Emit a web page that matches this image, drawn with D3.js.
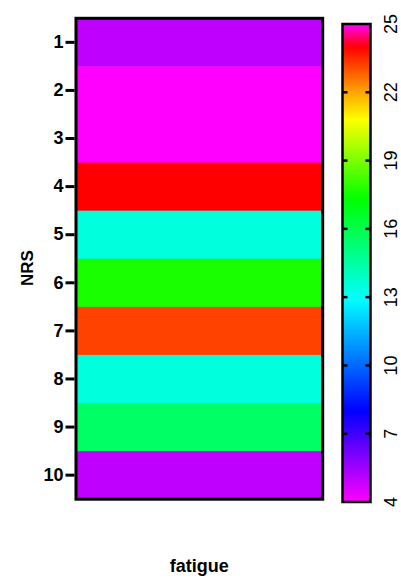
<!DOCTYPE html>
<html>
<head>
<meta charset="utf-8">
<script src="https://cdn.jsdelivr.net/npm/d3@7"></script>
<style>
  body { margin: 0; background: #fff; }
  svg text { font-family: Arial, "Liberation Sans", sans-serif; }
</style>
</head>
<body>
<svg></svg>
<script>
// NRS rows, one column (fatigue)
const nrsLevels = [1, 2, 3, 4, 5, 6, 7, 8, 9, 10];
const fatigueValues = [5, 25, 25, 24, 13.5, 17.65, 23.2, 13.5, 15.55, 5];
const colorTicks = [4, 7, 10, 13, 16, 19, 22, 25];
const colorDomain = [4, 25];

const colorStops = [4, 8, 12.9, 17.3, 20.8, 22, 24, 25];
const colorRange = ["#ff00ff", "#0000ff", "#00ffff", "#00ff00", "#ffff00", "#ffa500", "#ff0000", "#ff00ff"];

const svg = d3.select("svg").attr("width", 401).attr("height", 579);

const color = d3.scaleLinear().domain(colorStops).range(colorRange).clamp(true);

const plot = { left: 76, top: 18.3, right: 322.7, bottom: 499.2 };

const y = d3.scaleBand()
  .domain(nrsLevels)
  .range([plot.top, plot.bottom]);

// heatmap cells
svg.append("g")
  .selectAll("rect")
  .data(nrsLevels)
  .enter()
  .append("rect")
  .attr("x", plot.left)
  .attr("y", d => y(d))
  .attr("width", plot.right - plot.left)
  .attr("height", y.bandwidth() + 0.5)
  .attr("fill", (d, i) => color(fatigueValues[i]));

// frame
svg.append("rect")
  .attr("x", plot.left)
  .attr("y", plot.top)
  .attr("width", plot.right - plot.left)
  .attr("height", plot.bottom - plot.top)
  .attr("fill", "none")
  .attr("stroke", "#000")
  .attr("stroke-width", 3);

// y axis
const yAxis = svg.append("g")
  .attr("transform", `translate(${plot.left - 1.5},0)`)
  .call(d3.axisLeft(y).tickSize(9).tickPadding(2));

yAxis.select(".domain").remove();
yAxis.selectAll(".tick line").attr("stroke", "#000").attr("stroke-width", 3);
yAxis.selectAll(".tick text")
  .attr("fill", "#000")
  .style("font-size", "18px")
  .style("font-weight", "bold");

svg.append("text")
  .attr("transform", `translate(33,268) rotate(-90)`)
  .attr("text-anchor", "middle")
  .style("font-size", "17px")
  .style("font-weight", "bold")
  .text("NRS");

svg.append("text")
  .attr("x", (plot.left + plot.right) / 2)
  .attr("y", 572)
  .attr("text-anchor", "middle")
  .style("font-size", "18px")
  .style("font-weight", "bold")
  .text("fatigue");

// colour bar
const bar = { x: 342.5, w: 28, top: 24, bottom: 502 };
const cy = d3.scaleLinear().domain(colorDomain).range([bar.bottom, bar.top]);

const grad = svg.append("defs").append("linearGradient")
  .attr("id", "cbar")
  .attr("x1", 0).attr("y1", 1).attr("x2", 0).attr("y2", 0);

const samples = d3.range(0, 1.0001, 0.01);
grad.selectAll("stop")
  .data(samples)
  .enter()
  .append("stop")
  .attr("offset", d => d)
  .attr("stop-color", d => color(colorDomain[0] + d * (colorDomain[1] - colorDomain[0])));

svg.append("rect")
  .attr("x", bar.x)
  .attr("y", bar.top)
  .attr("width", bar.w)
  .attr("height", bar.bottom - bar.top)
  .attr("fill", "url(#cbar)")
  .attr("stroke", "#000")
  .attr("stroke-width", 2.5);

const barTicks = svg.append("g")
  .selectAll("g")
  .data(colorTicks)
  .enter()
  .append("g");

barTicks.filter(d => d !== colorDomain[0] && d !== colorDomain[1])
  .each(function(d) {
    const g = d3.select(this);
    g.append("line")
      .attr("x1", bar.x).attr("x2", bar.x + 5)
      .attr("y1", cy(d)).attr("y2", cy(d))
      .attr("stroke", "#000").attr("stroke-width", 2.5);
    g.append("line")
      .attr("x1", bar.x + bar.w - 5).attr("x2", bar.x + bar.w)
      .attr("y1", cy(d)).attr("y2", cy(d))
      .attr("stroke", "#000").attr("stroke-width", 2.5);
  });

barTicks.append("text")
  .attr("transform", d => `translate(397,${cy(d)}) rotate(-90)`)
  .attr("text-anchor", "middle")
  .style("font-size", "18px")
  .text(d => d);
</script>
</body>
</html>
